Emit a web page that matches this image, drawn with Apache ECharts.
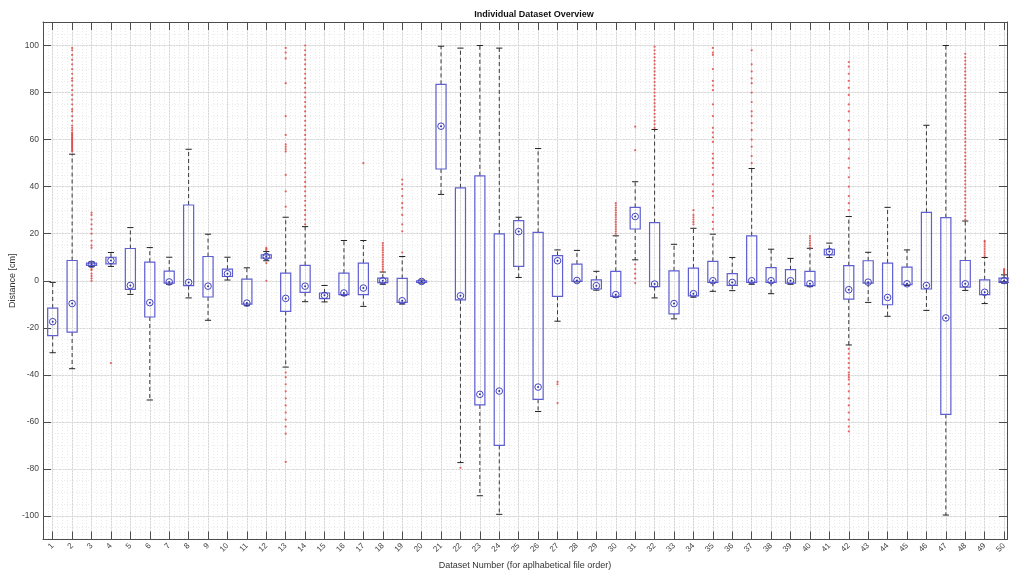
<!DOCTYPE html>
<html>
<head>
<meta charset="utf-8">
<title>Individual Dataset Overview</title>
<script src="https://cdn.jsdelivr.net/npm/echarts/dist/echarts.min.js"></script>
<style>
    html, body { margin: 0; padding: 0; background: #fff; }
    #chart { width: 1009px; height: 571px; }
</style>
</head>
<body>
<div id="chart"></div>
<script>
// dataset numbers (x positions)
var xTicks = [1, 2, 3, 4, 5, 6, 7, 8, 9, 10, 11, 12, 13, 14, 15, 16, 17, 18, 19, 20,
    21, 22, 23, 24, 25, 26, 27, 28, 29, 30, 31, 32, 33, 34, 35, 36, 37, 38, 39, 40,
    41, 42, 43, 44, 45, 46, 47, 48, 49, 50];
var yTicks = [-100, -80, -60, -40, -20, 0, 20, 40, 60, 80, 100];

// box plot statistics (cm)
var whiskerLow = [-30.6, -37.4, 6, 6.1, -5.8, -50.7, -1.5, -7.3, -16.8, 0.3,
    -10.6, 8.5, -36.7, -8.9, -9, -6.2, -10.9, -1.5, -9.9, -1,
    36.7, -77.3, -91.4, -99.3, 1.4, -55.6, -17.2, -0.5, -4, -7,
    8.9, -7.3, -16.2, -7, -4.5, -4.2, -1.5, -5.5, -1.5, -2.5,
    9.9, -27.3, -9.2, -15.1, -2, -12.6, -99.6, -4.1, -9.7, -1];
var q1 = [-23.3, -21.8, 6.5, 7.2, -3.7, -15.4, -1, -2.1, -6.9, 1.8,
    -9.9, 9.6, -13, -4.9, -7.6, -5.9, -5.9, -0.8, -9.2, -0.7,
    47.5, -8.1, -52.8, -70, 6.1, -50.4, -6.6, -0.3, -3.5, -6.6,
    22, -2.5, -14.1, -6.4, -0.7, -2, -0.7, -0.7, -1, -2.1,
    11, -7.8, -1, -10.2, -1.7, -3.5, -56.8, -2.7, -5.9, -0.7];
var median = [-17.4, -9.7, 7, 8.6, -2, -9.3, -0.5, -0.7, -2.3, 3,
    -9.5, 10.3, -7.5, -2.3, -6.2, -5.2, -3.1, 0, -8.5, -0.3,
    65.7, -6.4, -48.3, -46.9, 20.9, -45.2, 8.5, 0.1, -2.1, -5.9,
    27.3, -1.4, -9.7, -5.5, 0, -0.7, 0, 0, 0, -1.3,
    12.4, -3.8, -0.6, -7.1, -1.3, -2, -15.8, -1.3, -4.9, 0.1];
var q3 = [-11.6, 8.6, 7.5, 10, 13.7, 7.9, 4.1, 32.2, 10.3, 4.9,
    0.7, 11, 3.2, 6.5, -5.2, 3.2, 7.5, 1.1, 1, 0,
    83.5, 39.5, 44.6, 19.9, 25.6, 20.6, 10.7, 7.1, 0.4, 4,
    31.2, 24.7, 4.2, 5.4, 8.2, 3, 19.1, 5.6, 4.7, 4,
    13.4, 6.4, 8.5, 7.5, 5.8, 29.1, 26.8, 8.6, 0.4, 1.1];
var whiskerHigh = [-0.7, 53.8, 8, 12, 22.6, 14.1, 10, 55.9, 19.8, 10,
    5.5, 12.4, 27, 23, -2, 17.1, 17.1, 3.7, 10.3, 0.3,
    99.7, 98.9, 100, 98.9, 27, 56.2, 13.1, 12.9, 4, 19.1,
    42.1, 64.3, 15.5, 22.3, 19.8, 9.9, 47.7, 13.4, 9.5, 13.8,
    16, 27.3, 12.1, 31.2, 13.1, 66.1, 100, 25.4, 9.9, 2.5];

// outliers for each dataset
var outliers = [
    [],
    [55, 55.5, 56, 56.5, 57, 57.5, 58, 58.5, 59, 59.5, 60, 60.5, 61, 61.5, 62, 62.5, 63, 64, 65, 66, 68, 70, 72, 73, 75, 77, 79, 81, 83, 85, 86, 88, 90, 92, 94, 96, 98, 99],
    [0, 1, 2, 3, 4.5, 5, 14, 15, 17, 20, 22, 24, 26, 28, 29],
    [-35],
    [],
    [],
    [],
    [],
    [],
    [],
    [],
    [13, 13.5, 14, 7.5, 0],
    [99, 97, 94.5, 84, 70, 62, 58, 57, 56, 55, 45, 38, 31.5, -39, -41, -44, -47, -50, -53, -56, -59, -62, -65, -77],
    [24, 26, 28, 30, 32, 34, 36, 38, 40, 42, 44, 46, 48, 50, 52, 54, 56, 58, 60, 62, 64, 66, 68, 70, 72, 74, 76, 78, 80, 82, 84, 86, 88, 90, 92, 94, 96, 98, 100],
    [],
    [],
    [50],
    [4, 5, 6, 7, 8, 9, 10, 11, 12, 13, 14, 15, 16],
    [12, 21, 24, 28, 31, 33, 36, 39, 41, 43],
    [],
    [],
    [-79.5],
    [],
    [],
    [],
    [],
    [-43, -44, -52],
    [],
    [],
    [20, 21, 22, 23, 24, 25, 26, 27, 28, 29, 30, 31, 32, 33],
    [65.5, 55.5, 7, 5, 3, 1, -1],
    [65, 66.5, 68, 69.5, 71, 72.5, 74, 75.5, 77, 78.5, 80, 81.5, 83, 84.5, 86, 87.5, 89, 90.5, 92, 93.5, 95, 96.5, 98, 99.5],
    [],
    [24, 25, 26, 27, 28, 30],
    [99, 97, 96, 90, 85, 83, 81, 75, 70, 65, 63, 61, 59, 54, 52, 50, 48, 45, 41, 38, 36, 31, 28, 25, 22],
    [],
    [98, 92, 89, 86, 84, 80, 76, 72, 70, 67, 64, 60, 57, 53, 50],
    [],
    [],
    [14, 15, 16, 17, 18, 19],
    [],
    [93, 91, 88, 85, 82, 79, 75, 72, 68, 64, 60, 56, 52, 48, 44, 40, 36, 33, 30, -29, -31, -33, -35, -37, -39, -40, -41, -42, -44, -47, -50, -53, -56, -59, -62, -64],
    [],
    [],
    [],
    [],
    [],
    [26, 27.5, 29, 30.5, 32, 33.5, 35, 36.5, 38, 39.5, 41, 42.5, 44, 45.5, 47, 48.5, 50, 51.5, 53, 54.5, 56, 57.5, 59, 60.5, 62, 63.5, 65, 66.5, 68, 69.5, 71, 72.5, 74, 75.5, 77, 78.5, 80, 81.5, 83, 84.5, 86, 87.5, 89, 90.5, 92, 93.5, 95, 96.5],
    [10.5, 11.5, 12.5, 13.5, 14.5, 15.5, 16.5, 17],
    [3, 3.5, 4, 4.5, 5]
];

var FONT = '"Liberation Sans", Arial, Helvetica, sans-serif';
var AXIS_COLOR = '#4d4d4d';

var boxData = [];
for (var i = 0; i < xTicks.length; i++) {
    boxData.push([xTicks[i], whiskerLow[i], q1[i], median[i], q3[i], whiskerHigh[i]]);
}
var outlierData = [];
for (var j = 0; j < outliers.length; j++) {
    for (var k = 0; k < outliers[j].length; k++) {
        outlierData.push([xTicks[j], outliers[j][k]]);
    }
}

// matlab style box: blue box, dashed black whiskers, target median
function renderBox(params, api) {
    var x = api.value(0);
    var pLow = api.coord([x, api.value(1)]);
    var pQ1 = api.coord([x, api.value(2)]);
    var pMed = api.coord([x, api.value(3)]);
    var pQ3 = api.coord([x, api.value(4)]);
    var pHigh = api.coord([x, api.value(5)]);
    var bw = api.size([1, 0])[0];
    var half = bw * 0.26;
    var cap = bw * 0.16;
    var cx = pMed[0];
    var whisker = { stroke: '#3a3a3a', lineWidth: 1, lineDash: [4, 3] };
    var capStyle = { stroke: '#222', lineWidth: 1 };
    return {
        type: 'group',
        children: [
            { type: 'line', shape: { x1: cx, y1: pQ3[1], x2: cx, y2: pHigh[1] }, style: whisker },
            { type: 'line', shape: { x1: cx, y1: pQ1[1], x2: cx, y2: pLow[1] }, style: whisker },
            { type: 'line', shape: { x1: cx - cap, y1: pHigh[1], x2: cx + cap, y2: pHigh[1] }, style: capStyle },
            { type: 'line', shape: { x1: cx - cap, y1: pLow[1], x2: cx + cap, y2: pLow[1] }, style: capStyle },
            {
                type: 'rect',
                shape: { x: cx - half, y: pQ3[1], width: half * 2, height: pQ1[1] - pQ3[1] },
                style: { fill: 'none', stroke: '#5f5fd2', lineWidth: 1.2 }
            },
            { type: 'circle', shape: { cx: cx, cy: pMed[1], r: 3.3 }, style: { fill: 'none', stroke: '#4444bf', lineWidth: 1 } },
            { type: 'circle', shape: { cx: cx, cy: pMed[1], r: 1 }, style: { fill: '#30309f' } }
        ]
    };
}

var myChart = echarts.init(document.getElementById('chart'));
var option = {
    backgroundColor: '#fff',
    animation: false,
    textStyle: { fontFamily: FONT },
    title: {
        text: 'Individual Dataset Overview',
        left: 529,
        top: 5,
        textAlign: 'center',
        textStyle: { fontFamily: FONT, fontSize: 9, fontWeight: 'bold', color: '#111' }
    },
    grid: { left: 43, right: 2, top: 22, bottom: 31.5, outerBoundsMode: 'none', containLabel: false },
    xAxis: [
        {
            type: 'value', min: 0.5, max: 50.15, position: 'bottom',
            name: 'Dataset Number (for aplhabetical file order)',
            nameLocation: 'middle', nameGap: 21,
            nameTextStyle: { fontFamily: FONT, fontSize: 9, color: '#333' },
            axisLine: { show: true, onZero: false, lineStyle: { color: AXIS_COLOR } },
            axisTick: { show: true, inside: true, length: 8, customValues: xTicks, lineStyle: { color: AXIS_COLOR } },
            axisLabel: { customValues: xTicks, rotate: 45, fontSize: 8, color: '#444', margin: 5 },
            splitLine: { show: true, lineStyle: { color: '#d9d9d9', width: 1 } }
        },
        {
            type: 'value', min: 0.5, max: 50.15, position: 'top',
            axisLine: { show: true, onZero: false, lineStyle: { color: AXIS_COLOR } },
            axisTick: { show: true, inside: true, length: 8, customValues: xTicks, lineStyle: { color: AXIS_COLOR } },
            axisLabel: { show: false },
            splitLine: { show: false }
        },
        {
            type: 'value', min: 0.5, max: 50.15, interval: 0.25, position: 'bottom',
            axisLine: { show: false },
            axisTick: { show: false },
            axisLabel: { show: false },
            splitLine: { show: true, lineStyle: { color: '#ebebeb', width: 1, type: [1, 2] } }
        }
    ],
    yAxis: [
        {
            type: 'value', min: -110, max: 110, position: 'left',
            name: 'Distance [cm]', nameLocation: 'middle', nameGap: 26, nameMoveOverlap: false,
            nameTextStyle: { fontFamily: FONT, fontSize: 9, color: '#333' },
            axisLine: { show: true, onZero: false, lineStyle: { color: AXIS_COLOR } },
            axisTick: { show: true, inside: true, length: 8, customValues: yTicks, lineStyle: { color: AXIS_COLOR } },
            axisLabel: { customValues: yTicks, fontSize: 8.5, color: '#444', margin: 4 },
            splitLine: { show: true, lineStyle: { color: '#d9d9d9', width: 1 } }
        },
        {
            type: 'value', min: -110, max: 110, position: 'right',
            axisLine: { show: true, onZero: false, lineStyle: { color: AXIS_COLOR } },
            axisTick: { show: true, inside: true, length: 8, customValues: yTicks, lineStyle: { color: AXIS_COLOR } },
            axisLabel: { show: false },
            splitLine: { show: false }
        },
        {
            type: 'value', min: -110, max: 110, interval: 5,
            axisLine: { show: false },
            axisTick: { show: false },
            axisLabel: { show: false },
            splitLine: { show: true, lineStyle: { color: '#ebebeb', width: 1, type: [1, 2] } }
        }
    ],
    series: [
        {
            name: 'outliers',
            type: 'scatter',
            xAxisIndex: 0,
            yAxisIndex: 0,
            symbol: 'circle',
            symbolSize: 2.2,
            silent: true,
            itemStyle: { color: '#e0413c', opacity: 0.8 },
            data: outlierData
        },
        {
            name: 'boxes',
            type: 'custom',
            xAxisIndex: 0,
            yAxisIndex: 0,
            silent: true,
            renderItem: renderBox,
            encode: { x: 0, y: [1, 2, 3, 4, 5] },
            data: boxData
        }
    ]
};
myChart.setOption(option);
</script>
</body>
</html>
